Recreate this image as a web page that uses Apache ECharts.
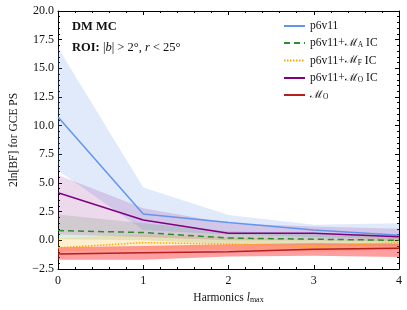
<!DOCTYPE html>
<html><head><meta charset="utf-8">
<script src="https://cdn.jsdelivr.net/npm/echarts@6/dist/echarts.min.js"></script>
<style>html,body{margin:0;padding:0;background:#fff}#c{width:407px;height:310px}</style>
</head><body><div id="c"></div>
<script>
const lmax = [0, 1, 2, 3, 4];
const yTicks = [-2.5, 0, 2.5, 5, 7.5, 10, 12.5, 15, 17.5, 20];

const p6v11 = [10.75, 2.3, 1.55, 0.9, 0.45];
const p6v11Lo = [6.1, 0.9, 0.5, 0.3, 0.1];
const p6v11Hi = [16.8, 4.6, 2.2, 1.35, 1.5];

const p6A = [0.85, 0.68, 0.2, 0.1, 0.0];
const p6ALo = [0.1, 0.0, -0.3, -0.4, -0.5];
const p6AHi = [2.25, 1.5, 0.8, 0.6, 0.5];

const p6F = [-0.65, -0.2, -0.32, -0.55, -0.2];
const p6FLo = [-1.0, -0.8, -0.8, -1.0, -0.8];
const p6FHi = [0.2, 0.5, 0.3, 0.0, 0.3];

const p6O = [4.15, 1.78, 0.62, 0.62, 0.32];
const p6OLo = [0.5, 0.3, 0.0, 0.0, -0.1];
const p6OHi = [5.7, 2.8, 1.5, 1.2, 1.0];

const mO = [-1.19, -1.08, -0.99, -0.78, -0.7];
const mOLo = [-1.7, -1.7, -1.4, -1.35, -1.45];
const mOHi = [-0.6, -0.5, -0.35, -0.25, -0.3];

const FONT = 'Liberation Serif';
const TXT = '#111';
const names = ['p6v11', 'p6v11+ℳA IC', 'p6v11+ℳF IC', 'p6v11+ℳO IC', 'ℳO'];
const legendFmt = {
  'p6v11': '{t|p6v11}',
  'p6v11+ℳA IC': '{t|p6v11+}{m|ℳ}{s|A}{t| IC}',
  'p6v11+ℳF IC': '{t|p6v11+}{m|ℳ}{s|F}{t| IC}',
  'p6v11+ℳO IC': '{t|p6v11+}{m|ℳ}{s|O}{t| IC}',
  'ℳO': '{m|ℳ}{s|O}'
};

function band(lo, hi, color) {
  return {
    type: 'custom', silent: true, z: 1,
    data: lmax.map((x, i) => [x, lo[i], hi[i]]),
    renderItem: function (params, api) {
      if (params.dataIndex !== 0) return;
      const pts = [];
      for (let i = 0; i < lmax.length; i++) pts.push(api.coord([lmax[i], hi[i]]));
      for (let i = lmax.length - 1; i >= 0; i--) pts.push(api.coord([lmax[i], lo[i]]));
      return { type: 'polygon', shape: { points: pts }, style: { fill: color } };
    }
  };
}
function line(name, data, color, type, width) {
  return {
    name: name, type: 'line', z: 3, symbol: 'none', animation: false,
    data: lmax.map((x, i) => [x, data[i]]),
    lineStyle: { color: color, width: width || 1.5, type: type || 'solid' },
    itemStyle: { color: color }
  };
}

const chart = echarts.init(document.getElementById('c'));
function axisCommon() {
  return {
    axisLine: { show: true, onZero: false, lineStyle: { color: '#000', width: 1 } },
    axisTick: { show: true, inside: true, length: 4, lineStyle: { color: '#000' } },
    minorTick: { show: true, splitNumber: 5, length: 2, lineStyle: { color: '#000' } },
    splitLine: { show: false }
  };
}
chart.setOption({
  animation: false,
  grid: { left: 54, right: 8, top: 11, bottom: 41 },
  xAxis: [
    Object.assign({ type: 'value', min: 0, max: 4, interval: 1, position: 'bottom',
      name: '{a|Harmonics }{b|l}{c|max}', nameLocation: 'middle', nameGap: 22,
      nameTextStyle: { rich: {
        a: { fontFamily: FONT, fontSize: 11.5, color: TXT },
        b: { fontFamily: FONT, fontSize: 11.5, fontStyle: 'italic', color: TXT },
        c: { fontFamily: FONT, fontSize: 8, color: TXT, padding: [5, 0, 0, 0] } } },
      axisLabel: { fontFamily: FONT, fontSize: 12, color: TXT, margin: 6 } }, axisCommon()),
    Object.assign({ type: 'value', min: 0, max: 4, interval: 1, position: 'top', axisLabel: { show: false } }, axisCommon())
  ],
  yAxis: [
    Object.assign({ type: 'value', min: -2.5, max: 20, interval: 2.5,
      name: '2ln[BF] for GCE PS', nameLocation: 'middle', nameGap: 38,
      nameTextStyle: { fontFamily: FONT, fontSize: 11.5, color: TXT },
      axisLabel: { fontFamily: FONT, fontSize: 12, color: TXT, margin: 4,
        formatter: v => (v < 0 ? '\u2212' : '') + Math.abs(v).toFixed(1) } }, axisCommon()),
    Object.assign({ type: 'value', min: -2.5, max: 20, interval: 2.5, position: 'right', axisLabel: { show: false } }, axisCommon())
  ],
  legend: {
    orient: 'vertical', left: 283, top: 20, padding: 0, itemWidth: 21, itemHeight: 10, itemGap: 5,
    data: names,
    itemStyle: { opacity: 0 },
    formatter: n => legendFmt[n],
    textStyle: { rich: {
      t: { fontFamily: FONT, fontSize: 11.5, color: TXT },
      m: { fontFamily: 'DejaVu Serif', fontSize: 11, color: TXT },
      s: { fontFamily: FONT, fontSize: 7.5, color: TXT, padding: [5, 0, 0, 0] } } }
  },
  graphic: [
    { type: 'text', left: 72, top: 20, style: { text: 'DM MC', font: 'bold 12.5px "Liberation Serif"', fill: TXT } },
    { type: 'text', left: 72, top: 41, style: {
      text: '{b|ROI: }{t||}{i|b}{t|| > 2°, }{i|r}{t| < 25°}',
      rich: {
        b: { fontFamily: FONT, fontWeight: 'bold', fontSize: 12.5, fill: TXT },
        t: { fontFamily: FONT, fontSize: 12.5, fill: TXT },
        i: { fontFamily: FONT, fontStyle: 'italic', fontSize: 12.5, fill: TXT } } } }
  ],
  series: [
    band(p6v11Lo, p6v11Hi, 'rgba(100,149,237,0.2)'),
    band(p6ALo, p6AHi, 'rgba(40,140,40,0.15)'),
    band(p6FLo, p6FHi, 'rgba(255,165,0,0.18)'),
    band(p6OLo, p6OHi, 'rgba(128,0,128,0.15)'),
    band(mOLo, mOHi, 'rgba(255,40,40,0.45)'),
    line(names[0], p6v11, '#6495ED', 'solid', 1.5),
    line(names[1], p6A, '#2e8b2e', [6, 4], 1.5),
    line(names[2], p6F, '#FFA500', [1.5, 1.5], 1.5),
    line(names[3], p6O, '#800080', 'solid', 1.5),
    line(names[4], mO, '#b5201e', 'solid', 1.5)
  ]
});
</script></body></html>
